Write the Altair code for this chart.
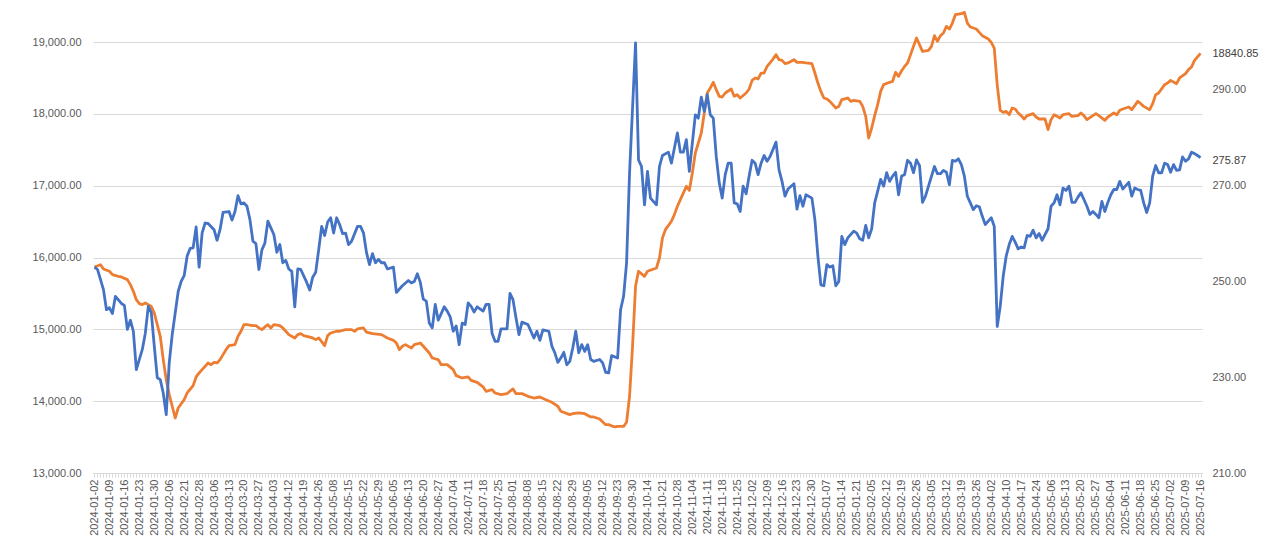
import json
import altair as alt
import pandas as pd

date_labels = [
    "2024-01-02", "2024-01-09", "2024-01-16", "2024-01-23", "2024-01-30", "2024-02-06",
    "2024-02-21", "2024-02-28", "2024-03-06", "2024-03-13", "2024-03-20", "2024-03-27",
    "2024-04-03", "2024-04-12", "2024-04-19", "2024-04-26", "2024-05-08", "2024-05-15",
    "2024-05-22", "2024-05-29", "2024-06-05", "2024-06-13", "2024-06-20", "2024-06-27",
    "2024-07-04", "2024-07-11", "2024-07-18", "2024-07-25", "2024-08-01", "2024-08-08",
    "2024-08-15", "2024-08-22", "2024-08-29", "2024-09-05", "2024-09-12", "2024-09-23",
    "2024-09-30", "2024-10-14", "2024-10-21", "2024-10-28", "2024-11-04", "2024-11-11",
    "2024-11-18", "2024-11-25", "2024-12-02", "2024-12-09", "2024-12-16", "2024-12-23",
    "2024-12-30", "2025-01-07", "2025-01-14", "2025-01-21", "2025-02-05", "2025-02-12",
    "2025-02-19", "2025-02-26", "2025-03-05", "2025-03-12", "2025-03-19", "2025-03-26",
    "2025-04-02", "2025-04-10", "2025-04-17", "2025-04-24", "2025-05-06", "2025-05-13",
    "2025-05-20", "2025-05-27", "2025-06-04", "2025-06-11", "2025-06-18", "2025-06-25",
    "2025-07-02", "2025-07-09", "2025-07-16",
]

# trading-day index (5 trading days between labelled dates)
orange_idx = [
    0, 2, 3, 5, 6, 8, 9, 11, 12, 13, 14, 15, 16, 17, 19, 20, 21, 22, 23, 24, 25, 26, 27, 28,
    30, 31, 33, 34, 35, 36, 38, 39, 40, 41, 42, 43, 44, 45, 47, 48, 49, 50, 51, 53, 54, 55,
    56, 57, 58, 59, 60, 62, 63, 64, 65, 67, 68, 69, 70, 71, 73, 74, 75, 77, 78, 79, 81, 82,
    84, 86, 87, 88, 90, 91, 93, 96, 98, 100, 101, 102, 103, 104, 106, 107, 109, 110, 112,
    113, 115, 116, 118, 120, 121, 123, 125, 126, 128, 130, 131, 133, 134, 136, 138, 140,
    141, 143, 145, 147, 149, 151, 153, 155, 156, 159, 160, 162, 164, 166, 167, 169, 171,
    172, 174, 175, 177, 178, 179, 180, 181, 182, 184, 185, 188, 189, 190, 191, 193, 194,
    195, 196, 198, 199, 200, 201, 203, 204, 205, 206, 207, 208, 209, 210, 211, 213, 214,
    215, 216, 218, 219, 220, 221, 222, 223, 224, 225, 227, 228, 229, 230, 231, 232, 234,
    235, 237, 238, 240, 241, 242, 243, 244, 245, 246, 247, 248, 249, 250, 252, 253, 254,
    256, 257, 258, 259, 260, 261, 262, 263, 264, 266, 267, 268, 269, 270, 271, 272, 273,
    274, 275, 277, 279, 280, 281, 282, 283, 284, 285, 286, 287, 288, 290, 291, 292, 293,
    295, 296, 297, 299, 300, 301, 302, 303, 304, 305, 306, 307, 308, 309, 310, 311, 312,
    313, 314, 315, 316, 318, 319, 320, 321, 322, 323, 324, 326, 327, 329, 330, 331, 332,
    334, 335, 336, 338, 339, 341, 342, 343, 344, 346, 347, 348, 349, 350, 351, 353, 354,
    355, 356, 358, 359, 360, 362, 363, 365, 366, 367, 368, 370,
]
orange_val = [
    15868, 15900, 15840, 15808, 15761, 15738, 15729, 15692, 15622, 15529, 15413, 15358,
    15344, 15367, 15320, 15228, 15065, 14903, 14578, 14300, 14091, 13929, 13766, 13905,
    14021, 14114, 14216, 14337, 14393, 14439, 14532, 14508, 14541, 14532, 14578, 14648,
    14717, 14773, 14787, 14903, 14973, 15065, 15065, 15051, 15051, 15019, 14996, 15033,
    15065, 15019, 15065, 15051, 15019, 14973, 14926, 14880, 14926, 14940, 14912, 14903,
    14880, 14857, 14880, 14773, 14912, 14949, 14973, 14973, 14996, 14996, 14973, 15005,
    15019, 14960, 14940, 14926, 14880, 14847, 14810, 14717, 14764, 14787, 14740, 14787,
    14810, 14764, 14671, 14601, 14578, 14508, 14508, 14439, 14355, 14323, 14337, 14290,
    14262, 14198, 14137, 14160, 14114, 14091, 14105, 14170, 14105, 14105, 14068, 14044,
    14058, 14021, 13984, 13929, 13859, 13812, 13826, 13836, 13826, 13780, 13780, 13752,
    13673, 13673, 13641, 13650, 13650, 13706, 14068, 14764, 15599, 15808, 15738, 15808,
    15854, 15993, 16272, 16388, 16504, 16597, 16713, 16805, 16991, 16935, 17176, 17455,
    17733, 18012, 18290, 18360, 18439, 18336, 18244, 18234, 18290, 18346, 18244, 18267,
    18220, 18290, 18346, 18466, 18499, 18485, 18568, 18568, 18661, 18763, 18824, 18754,
    18745, 18698, 18708, 18754, 18717, 18717, 18708, 18698, 18568, 18429, 18313, 18220,
    18207, 18174, 18128, 18081, 18104, 18197, 18220, 18174, 18188, 18174, 18104, 17965,
    17664, 17803, 17975, 18128, 18313, 18406, 18439, 18452, 18578, 18522, 18600, 18660,
    18708, 18824, 18940, 19056, 18869, 18883, 18939, 19088, 19009, 19088, 19125, 19217,
    19181, 19264, 19380, 19394, 19412, 19264, 19209, 19181, 19134, 19088, 19042, 18995,
    18916, 18400, 18049, 18021, 18035, 17988, 18081, 18067, 18012, 17975, 17928, 17975,
    17988, 18002, 17956, 17928, 17928, 17780, 17919, 17988, 17965, 17942, 17988, 18002,
    17965, 17975, 18012, 17975, 17919, 17975, 18002, 17975, 17910, 17956, 18012, 17988,
    18049, 18067, 18095, 18058, 18114, 18174, 18141, 18104, 18058, 18141, 18267, 18290,
    18406, 18429, 18466, 18420, 18499, 18559, 18615, 18652, 18745, 18840.85,
]

blue_idx = [
    0, 1, 3, 4, 5, 6, 7, 9, 10, 11, 12, 13, 14, 16, 17, 18, 19, 20, 21, 22, 23, 24, 25, 26,
    28, 29, 30, 31, 32, 33, 34, 35, 36, 37, 38, 40, 41, 42, 43, 45, 46, 47, 48, 49, 50, 51,
    52, 53, 54, 55, 56, 57, 58, 59, 60, 61, 62, 63, 64, 65, 66, 67, 68, 69, 71, 72, 73, 74,
    75, 76, 77, 78, 79, 80, 81, 82, 83, 84, 85, 86, 88, 89, 90, 91, 92, 93, 94, 95, 96, 97,
    98, 100, 101, 103, 105, 106, 107, 108, 109, 110, 111, 112, 113, 114, 115, 117, 118,
    119, 120, 121, 122, 123, 124, 125, 126, 127, 128, 130, 131, 132, 133, 134, 135, 136,
    138, 139, 140, 141, 142, 143, 145, 146, 147, 148, 149, 150, 152, 153, 154, 155, 156,
    157, 158, 159, 160, 161, 162, 163, 164, 165, 166, 167, 169, 170, 171, 172, 173, 175,
    176, 177, 178, 179, 181, 182, 183, 184, 185, 186, 188, 189, 190, 192, 193, 195, 196,
    197, 198, 199, 201, 202, 203, 204, 205, 206, 207, 208, 209, 210, 211, 212, 213, 214,
    215, 216, 217, 218, 219, 220, 221, 222, 223, 224, 225, 226, 228, 229, 230, 231, 232,
    234, 235, 236, 237, 238, 240, 241, 242, 243, 244, 245, 246, 247, 248, 249, 250, 251,
    252, 254, 255, 256, 257, 258, 259, 260, 261, 263, 264, 265, 266, 267, 268, 269, 270,
    271, 272, 273, 274, 275, 276, 277, 278, 279, 281, 282, 283, 284, 285, 286, 287, 288,
    289, 290, 291, 292, 293, 294, 295, 296, 297, 298, 299, 300, 301, 302, 303, 304, 305,
    306, 307, 308, 309, 310, 311, 312, 313, 314, 315, 316, 317, 318, 319, 320, 321, 322,
    323, 324, 325, 326, 327, 328, 329, 330, 331, 332, 333, 334, 335, 336, 337, 338, 339,
    340, 341, 342, 343, 344, 345, 346, 347, 348, 349, 350, 351, 352, 353, 354, 355, 356,
    357, 358, 359, 360, 361, 362, 363, 364, 365, 366, 367, 368, 369, 370,
]
blue_val = [
    253.0, 252.5, 248.3, 244.1, 244.5, 243.3, 246.9, 245.4, 245.0, 240.0, 241.9, 239.6,
    231.6, 235.8, 239.2, 244.8, 243.5, 236.5, 229.9, 229.5, 226.7, 222.2, 233.0, 238.9,
    247.9, 250.0, 251.2, 255.3, 256.9, 257.0, 261.4, 253.0, 260.1, 262.2, 262.1, 260.8,
    258.6, 260.8, 264.4, 264.6, 262.8, 264.6, 267.9, 266.2, 266.4, 265.7, 262.9, 258.4,
    257.9, 252.5, 256.6, 258.0, 262.6, 261.2, 259.8, 256.1, 257.7, 253.9, 254.4, 252.6,
    252.1, 244.7, 252.6, 252.5, 249.8, 248.2, 250.9, 251.9, 256.6, 261.5, 259.6, 262.4,
    263.3, 260.1, 263.3, 261.9, 260.0, 260.1, 257.7, 258.4, 261.5, 261.5, 260.1, 256.0,
    253.5, 255.8, 253.9, 254.6, 253.9, 253.9, 252.6, 253.0, 247.7, 249.1, 250.2, 249.7,
    250.0, 251.6, 249.8, 246.3, 245.9, 241.3, 240.3, 245.2, 241.9, 244.7, 243.8, 242.6,
    239.6, 240.7, 236.8, 241.3, 241.0, 245.5, 244.8, 243.6, 244.7, 243.8, 245.2, 245.2,
    239.2, 237.5, 237.5, 240.1, 240.1, 247.5, 246.2, 242.4, 238.9, 241.5, 241.0, 239.6,
    238.2, 239.6, 237.7, 239.9, 239.6, 236.5, 235.1, 233.1, 234.0, 235.2, 232.6, 233.3,
    236.1, 239.6, 235.1, 236.8, 235.4, 236.8, 233.7, 233.3, 233.7, 233.0, 231.0, 230.9,
    234.5, 234.0, 244.1, 246.9, 253.9, 272.7, 299.8, 275.4, 274.0, 266.0, 273.0, 267.4,
    266.0, 274.0, 276.3, 277.0, 274.7, 281.0, 277.0, 277.0, 279.6, 273.0, 284.8, 284.1,
    288.5, 285.5, 289.0, 284.8, 284.1, 276.1, 270.6, 267.4, 272.3, 274.7, 274.7, 266.4,
    266.2, 264.6, 269.9, 268.3, 272.0, 275.3, 274.7, 272.3, 274.7, 276.3, 275.1, 276.1,
    279.1, 273.3, 270.9, 267.8, 269.3, 270.4, 265.1, 267.9, 265.7, 268.1, 267.4, 262.9,
    255.3, 249.3, 249.1, 253.5, 253.0, 253.3, 249.1, 250.0, 259.4, 257.7, 259.1, 260.5,
    260.1, 258.9, 258.6, 261.7, 259.1, 261.0, 266.4, 271.3, 269.9, 272.7, 270.9, 272.0,
    272.8, 268.1, 272.0, 272.3, 275.3, 274.7, 272.7, 275.4, 274.2, 266.5, 267.8, 269.9,
    274.0, 272.5, 272.5, 273.2, 272.8, 270.2, 275.3, 275.1, 275.6, 274.4, 272.0, 267.8,
    266.4, 265.0, 265.8, 265.6, 263.6, 261.9, 262.6, 263.3, 261.5, 240.6, 244.8, 251.1,
    255.3, 257.7, 259.4, 258.2, 256.8, 257.2, 257.0, 259.6, 259.4, 260.7, 259.1, 260.0,
    258.6, 259.8, 261.0, 265.7, 266.4, 268.1, 266.0, 269.5, 269.0, 269.9, 266.5, 266.5,
    267.6, 268.5, 267.1, 265.7, 264.0, 264.6, 264.0, 263.3, 266.7, 264.6, 266.5, 268.1,
    269.2, 269.2, 270.9, 269.3, 270.0, 270.7, 267.8, 269.5, 269.2, 269.0, 266.4, 264.4,
    266.4, 272.0, 274.2, 272.7, 272.7, 274.7, 274.4, 272.8, 274.4, 273.2, 273.3, 276.0,
    275.1, 275.6, 277.0, 276.7, 276.3, 275.87,
]

left_ticks = [13000, 14000, 15000, 16000, 17000, 18000, 19000]
right_ticks = [210, 230, 250, 270, 290]

N = 371
LAST = N - 1
FONT = "Liberation Sans"
GRAY = "#595959"
ORANGE = "#ED7D31"
BLUE = "#4472C4"

orange_df = pd.DataFrame({"i": orange_idx, "v": orange_val})
blue_df = pd.DataFrame({"i": blue_idx, "v": blue_val})

label_expr = "datum.value % 5 === 0 ? " + json.dumps(date_labels) + "[datum.value / 5] : ''"

x_enc = alt.X(
    "i:Q",
    scale=alt.Scale(domain=[-0.5, LAST + 0.5], nice=False, zero=False),
    axis=alt.Axis(
        values=list(range(N)),
        labelExpr=label_expr,
        labelAngle=270,
        labelOverlap=False,
        labelFlush=False,
        labelBound=False,
        grid=False,
        tickSize=4,
        tickColor="#d9d9d9",
        domainColor="#d9d9d9",
        labelColor=GRAY,
        labelFont=FONT,
        labelFontSize=11,
        labelPadding=2,
        title=None,
    ),
)

y_left = alt.Y(
    "v:Q",
    scale=alt.Scale(domain=[13000, 19000], nice=False, zero=False),
    axis=alt.Axis(
        values=left_ticks,
        format=",.2f",
        grid=True,
        gridColor="#d9d9d9",
        domain=False,
        ticks=False,
        labelPadding=12,
        labelColor=GRAY,
        labelFont=FONT,
        labelFontSize=11,
        title=None,
    ),
)

y_right = alt.Y(
    "v:Q",
    scale=alt.Scale(domain=[210, 300], nice=False, zero=False),
    axis=alt.Axis(
        orient="right",
        values=right_ticks,
        format=".2f",
        grid=False,
        domain=False,
        ticks=False,
        labelPadding=10,
        labelColor=GRAY,
        labelFont=FONT,
        labelFontSize=11,
        title=None,
    ),
)

base_o = alt.Chart(orange_df).encode(x=x_enc, y=y_left)
line_o = base_o.mark_line(color=ORANGE, strokeWidth=2.8, strokeJoin="round")
text_o = base_o.transform_filter(alt.datum.i == LAST).mark_text(
    align="left", baseline="middle", dx=12, dy=1, font=FONT, fontSize=11, color="#404040"
).encode(text=alt.Text("v:Q", format=".2f"))

base_b = alt.Chart(blue_df).encode(x=x_enc, y=y_right)
line_b = base_b.mark_line(color=BLUE, strokeWidth=2.8, strokeJoin="round")
text_b = base_b.transform_filter(alt.datum.i == LAST).mark_text(
    align="left", baseline="middle", dx=12, dy=3, font=FONT, fontSize=11, color="#404040"
).encode(text=alt.Text("v:Q", format=".2f"))

chart = (
    alt.layer(alt.layer(line_o, text_o), alt.layer(line_b, text_b))
    .resolve_scale(y="independent")
    .properties(
        width=1109,
        height=431,
        autosize=alt.AutoSizeParams(type="none"),
        padding={"left": 85, "top": 34, "right": 62, "bottom": 66},
        background="white",
    )
    .configure_view(stroke=None)
)

chart.save("out.html", embed_options={"renderer": "svg", "actions": False})
